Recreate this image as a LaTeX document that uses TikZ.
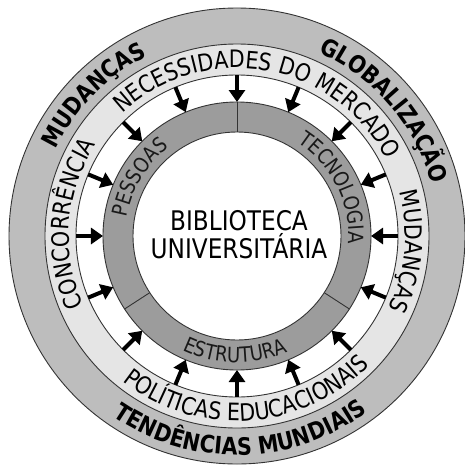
\documentclass[tikz,border=0pt]{standalone}
\usepackage{fontspec}
\newfontfamily\ringfont[FakeStretch=0.86]{DejaVu Sans}
\usetikzlibrary{arrows.meta, decorations.text}

\newcommand\outerlbl{\ringfont\bfseries\fontsize{24}{28}\selectfont}
\newcommand\midlbl{\ringfont\fontsize{24}{28}\selectfont}
\newcommand\innerlbl{\ringfont\fontsize{21}{24}\selectfont\color{black!90}}

\begin{document}
\begin{tikzpicture}[
  x=1pt, y=1pt,
  >={Triangle[width=16pt, length=12pt]},
  ring/.style    = {draw=black!80, line width=0.9pt},
  push/.style    = {->, line width=4pt, black},
  arctext/.style = {decorate, decoration={text along path, text align=center, text={#1}}},
]
  \useasboundingbox (-237,-228) rectangle (228,236);

  % rings, outside in
  \filldraw[ring, fill=black!26] (0,0) circle (228);
  \filldraw[ring, fill=black!10] (0,0) circle (192);
  \filldraw[ring, fill=white]    (0,0) circle (161);
  \filldraw[ring, fill=black!39] (0,0) circle (134);
  \filldraw[ring, fill=white]    (0,0) circle (104);

  % dark ring split in three
  \foreach \a/\n in {90/top, -33/right, 213/left} {
    \coordinate (s\n) at (\a:104);
    \coordinate (e\n) at (\a:134);
    \draw[ring] (s\n) -- (e\n);
  }

  % pressure arrows
  \foreach \i in {0,...,15} {
    \coordinate (t\i) at (\i*22.5:161);
    \coordinate (h\i) at (\i*22.5:134);
    \draw[push] (t\i) -- (h\i);
  }

  \node[font=\ringfont\fontsize{27}{28}\selectfont, align=center] (lib) at (2,1)
    {BIBLIOTECA\\UNIVERSITÁRIA};

  % outer ring
  \path[arctext={|\outerlbl|MUDANÇAS}]
    (175.5:201) arc[start angle=175.5, end angle=95.5, radius=201];
  \path[arctext={|\outerlbl|GLOBALIZAÇÃO}]
    (85.5:201) arc[start angle=85.5, end angle=-4.5, radius=201];
  \path[arctext={|\outerlbl|TENDÊNCIAS MUNDIAIS}]
    (-149:219) arc[start angle=-149, end angle=-29, radius=219];

  % light ring
  \path[arctext={|\midlbl|NECESSIDADES DO MERCADO}]
    (150:168) arc[start angle=150, end angle=10, radius=168];
  \path[arctext={|\midlbl|CONCORRÊNCIA}]
    (215.7:168) arc[start angle=215.7, end angle=135.7, radius=168];
  \path[arctext={|\midlbl|MUDANÇAS}]
    (34.8:168) arc[start angle=34.8, end angle=-45.2, radius=168];
  \path[arctext={|\midlbl|POLÍTICAS EDUCACIONAIS}]
    (-146.2:185) arc[start angle=-146.2, end angle=-26.2, radius=185];

  % dark ring
  \path[arctext={|\innerlbl|PESSOAS}]
    (189:111.5) arc[start angle=189, end angle=109, radius=111.5];
  \path[arctext={|\innerlbl|TECNOLOGIA}]
    (76.7:111.5) arc[start angle=76.7, end angle=-23.3, radius=111.5];
  \path[arctext={|\innerlbl|ESTRUTURA}]
    (-136:126.5) arc[start angle=-136, end angle=-46, radius=126.5];
\end{tikzpicture}
\end{document}
